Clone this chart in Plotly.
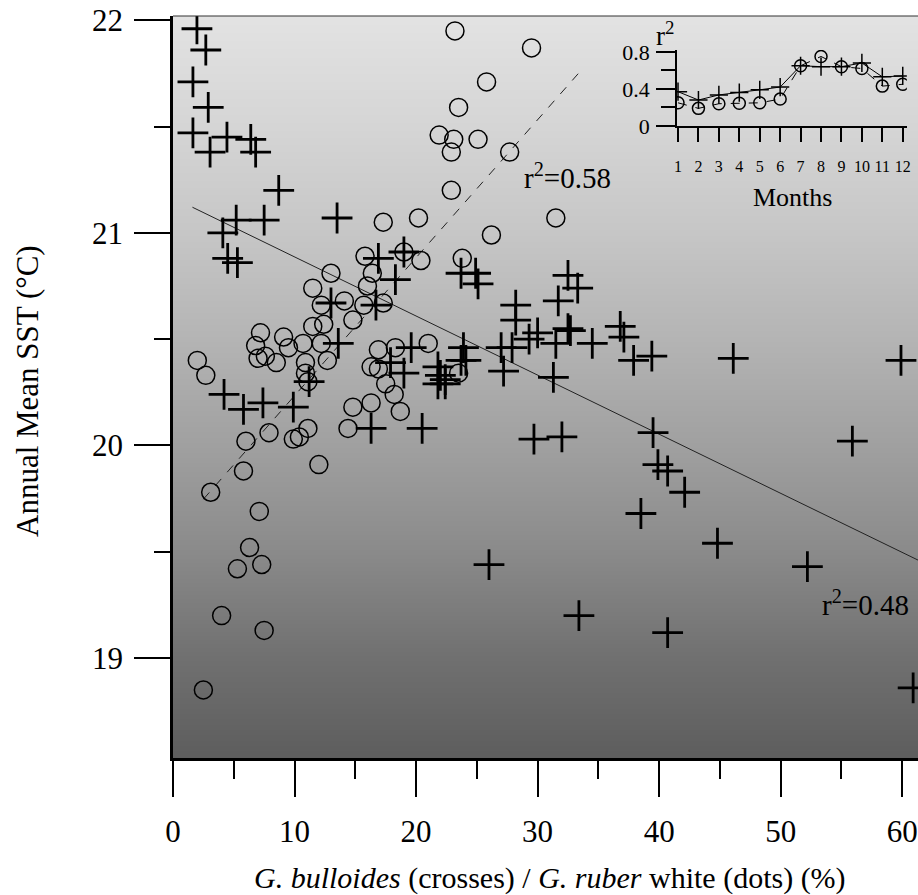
import plotly.graph_objects as go

# ---------------- data ----------------
# G. bulloides (crosses): x = %, y = annual mean SST
bull_x = [1.97, 2.7, 1.64, 2.9, 1.64, 3.05, 4.44, 6.4, 6.8, 8.7, 5.2, 7.5, 4.1, 4.5, 5.3,
          13.5, 16.9, 19.0, 23.7, 24.9, 25.1, 18.3, 13.0, 16.7, 13.6, 4.2, 5.8, 7.4, 9.9,
          11.2, 17.9, 19.0, 19.6, 16.3, 20.5, 21.8, 22.0, 22.4, 21.8, 22.4, 23.9, 24.1,
          23.7, 32.5, 33.3, 31.7, 28.2, 28.2, 27.0, 27.9, 30.0, 29.3, 31.5, 32.5, 32.7,
          34.5, 36.8, 37.1, 37.9, 39.4, 46.1, 59.9, 27.2, 31.3, 29.7, 32.0, 39.5, 39.9,
          40.7, 42.1, 38.5, 44.8, 55.9, 26.0, 52.2, 33.4, 40.7, 60.9]
bull_y = [21.96, 21.86, 21.71, 21.59, 21.47, 21.38, 21.45, 21.44, 21.38, 21.20, 21.06, 21.06,
          21.00, 20.88, 20.86, 21.07, 20.88, 20.91, 20.81, 20.81, 20.76, 20.78, 20.67, 20.66,
          20.48, 20.24, 20.17, 20.20, 20.18, 20.30, 20.39, 20.34, 20.46, 20.08, 20.08, 20.37,
          20.33, 20.31, 20.29, 20.29, 20.46, 20.40, 20.40, 20.80, 20.74, 20.68, 20.66, 20.59,
          20.46, 20.46, 20.53, 20.50, 20.48, 20.55, 20.54, 20.48, 20.56, 20.51, 20.40, 20.42,
          20.41, 20.40, 20.35, 20.32, 20.03, 20.04, 20.06, 19.91, 19.88, 19.78, 19.68, 19.54,
          20.02, 19.44, 19.43, 19.20, 19.12, 18.86]

# G. ruber white (dots)
ruber_x = [23.2, 25.8, 23.5, 21.9, 23.1, 25.1, 22.9, 27.7, 22.9, 17.3, 20.2, 26.2, 23.8, 15.8,
           19.0, 20.4, 13.0, 16.4, 29.5, 31.5, 11.5, 12.2, 14.1, 15.7, 17.3, 16.0, 14.8, 11.5,
           12.4, 7.2, 6.8, 9.1, 9.5, 10.7, 12.2, 7.0, 7.6, 8.5, 2.0, 2.7, 10.9, 12.7, 10.9,
           11.1, 16.9, 18.3, 21.0, 16.3, 16.9, 17.5, 18.2, 18.7, 14.8, 16.3, 14.4, 6.0, 7.9,
           9.9, 10.4, 11.1, 12.0, 5.8, 3.1, 7.1, 23.5, 6.3, 5.3, 7.3, 4.0, 7.5, 2.5]
ruber_y = [21.95, 21.71, 21.59, 21.46, 21.44, 21.44, 21.38, 21.38, 21.20, 21.05, 21.07, 20.99,
           20.88, 20.89, 20.91, 20.87, 20.81, 20.81, 21.87, 21.07, 20.74, 20.66, 20.68, 20.66,
           20.67, 20.75, 20.59, 20.56, 20.57, 20.53, 20.47, 20.51, 20.46, 20.48, 20.48, 20.41,
           20.42, 20.39, 20.40, 20.33, 20.39, 20.40, 20.34, 20.30, 20.45, 20.46, 20.48, 20.37,
           20.36, 20.29, 20.24, 20.16, 20.18, 20.20, 20.08, 20.02, 20.06, 20.03, 20.04, 20.08,
           19.91, 19.88, 19.78, 19.69, 20.34, 19.52, 19.42, 19.44, 19.20, 19.13, 18.85]

# regression lines (intercept, slope, x extent)
fit_bull_coef = [21.165, -0.0278]
fit_bull_xext = [1.6, 62.0]
fit_ruber_coef = [19.585, 0.0649]
fit_ruber_xext = [2.5, 33.7]
r2_labels = ["r<sup>2</sup>=0.58", "r<sup>2</sup>=0.48"]

# inset: monthly r^2
months = list(range(1, 13))
r2_bull = [0.37, 0.28, 0.335, 0.36, 0.39, 0.42, 0.65, 0.64, 0.64, 0.68, 0.53, 0.54]
r2_ruber = [0.25, 0.19, 0.24, 0.245, 0.25, 0.29, 0.65, 0.75, 0.64, 0.62, 0.43, 0.45]

x_ticks = [0, 10, 20, 30, 40, 50, 60]
y_ticks = [19, 20, 21, 22]

# background shading (gray level by SST)
bg_y = [18.3, 18.5, 19.0, 19.5, 20.0, 20.5, 21.0, 21.5, 22.0, 22.3]
bg_gray = [85, 92, 112, 138, 160, 180, 198, 213, 226, 228]

FONT = "Liberation Serif"

fig = go.Figure()

fig.add_trace(go.Heatmap(
    x=[-5, 70], y=bg_y, z=[[g, g] for g in bg_gray],
    zmin=0, zmax=255, colorscale=[[0, "rgb(0,0,0)"], [1, "rgb(255,255,255)"]],
    zsmooth="best", showscale=False, hoverinfo="skip"))

def line_pts(coef, ext):
    return ext, [coef[0] + coef[1] * v for v in ext]

lx, ly = line_pts(fit_bull_coef, fit_bull_xext)
fig.add_trace(go.Scatter(x=lx, y=ly, mode="lines",
                         line=dict(color="#222", width=1), hoverinfo="skip"))
lx, ly = line_pts(fit_ruber_coef, fit_ruber_xext)
fig.add_trace(go.Scatter(x=lx, y=ly, mode="lines",
                         line=dict(color="#222", width=1, dash="dash"), hoverinfo="skip"))

fig.add_trace(go.Scatter(x=ruber_x, y=ruber_y, mode="markers",
                         marker=dict(symbol="circle-open", size=18, color="black",
                                     line=dict(width=1.5, color="black"))))
fig.add_trace(go.Scatter(x=bull_x, y=bull_y, mode="markers",
                         marker=dict(symbol="cross-thin", size=22, color="black",
                                     line=dict(width=2.8, color="black"))))

# inset
fig.add_trace(go.Scatter(x=months, y=r2_bull, mode="lines+markers", xaxis="x2", yaxis="y2",
                         line=dict(color="black", width=1),
                         marker=dict(symbol="cross-thin", size=13, line=dict(width=1.5, color="black"))))
fig.add_trace(go.Scatter(x=months, y=r2_ruber, mode="lines+markers", xaxis="x2", yaxis="y2",
                         line=dict(color="black", width=1, dash="dash"),
                         marker=dict(symbol="circle-open", size=12, color="black",
                                     line=dict(width=1.5, color="black"))))

fig.update_layout(
    width=918, height=895, showlegend=False,
    margin=dict(l=173, r=0, t=16, b=137, autoexpand=False),
    paper_bgcolor="white", plot_bgcolor="rgba(0,0,0,0)",
    font=dict(family=FONT, color="black"),
    xaxis=dict(range=[0, 61.3], tickvals=x_ticks, ticks="outside", ticklen=36, tickwidth=2,
               tickcolor="black", showline=True, linewidth=2.5, linecolor="black",
               showgrid=False, zeroline=False, tickfont=dict(size=31, family=FONT),
               ticklabelstandoff=8, automargin=False, ticklabeloverflow="allow",
               minor=dict(dtick=5, tick0=0, ticks="outside", ticklen=18, tickwidth=2,
                          tickcolor="black", showgrid=False)),
    yaxis=dict(range=[18.53, 22.02], tickvals=y_ticks, ticks="outside", ticklen=36, tickwidth=2,
               tickcolor="black", showline=True, linewidth=2.5, linecolor="black",
               showgrid=False, zeroline=False, tickfont=dict(size=31, family=FONT),
               ticklabelstandoff=5, automargin=False, ticklabeloverflow="allow",
               minor=dict(dtick=0.5, tick0=0, ticks="outside", ticklen=16, tickwidth=2,
                          tickcolor="black", showgrid=False)),
    xaxis2=dict(domain=[0.6765, 0.985], anchor="y2", range=[0.95, 12.2], tickvals=months,
                ticks="outside", ticklen=14, tickwidth=1.5, tickcolor="black",
                showline=True, linewidth=1.5, linecolor="black", showgrid=False, zeroline=False,
                tickfont=dict(size=16, family=FONT), ticklabelstandoff=11, automargin=False,
                ticklabeloverflow="allow"),
    yaxis2=dict(domain=[0.8518, 0.9542], anchor="x2", range=[0, 0.82],
                tickvals=[0, 0.4, 0.8], ticktext=["0", "0.4", "0.8"],
                ticks="outside", ticklen=19, tickwidth=1.5, tickcolor="black",
                showline=True, linewidth=1.5, linecolor="black", showgrid=False, zeroline=False,
                tickfont=dict(size=22, family=FONT), ticklabelstandoff=2, automargin=False,
                ticklabeloverflow="allow",
                minor=dict(tickvals=[0.2, 0.6], ticks="outside", ticklen=14, tickwidth=1.5,
                           tickcolor="black", showgrid=False)),
    shapes=[
        dict(type="line", xref="paper", yref="paper", x0=0, x1=1, y0=1, y1=1,
             line=dict(color="#333", width=1.2)),
        dict(type="line", xref="paper", yref="y", x0=-16 / 745, x1=0, y0=18.5, y1=18.5,
             line=dict(color="black", width=2)),
    ],
    annotations=[
        dict(text=r2_labels[0], x=32.46, y=21.266, xref="x", yref="y", showarrow=False,
             xanchor="center", yanchor="middle", font=dict(size=29, family=FONT)),
        dict(text=r2_labels[1], x=57.0, y=19.26, xref="x", yref="y", showarrow=False,
             xanchor="center", yanchor="middle", font=dict(size=29, family=FONT)),
        dict(text="Months", x=0.832, y=0.756, xref="paper", yref="paper", showarrow=False,
             xanchor="center", yanchor="middle", font=dict(size=26, family=FONT)),
        dict(text="r<sup>2</sup>", x=0.661, y=0.976, xref="paper", yref="paper", showarrow=False,
             xanchor="center", yanchor="middle", font=dict(size=27, family=FONT)),
        dict(text="<i>G. bulloides</i> (crosses) / <i>G. ruber</i> white (dots) (%)",
             x=0.506, y=-0.1617, xref="paper", yref="paper", showarrow=False,
             xanchor="center", yanchor="middle", font=dict(size=30, family=FONT)),
        dict(text="Annual Mean SST (°C)", x=-0.196, y=0.4946, xref="paper", yref="paper",
             showarrow=False, textangle=-90, xanchor="center", yanchor="middle",
             font=dict(size=31, family=FONT)),
    ],
)

# remove the default 8px page margin so the figure fills the window exactly
fig.write_html("out.html", config={"displayModeBar": False},
               post_script="document.body.style.margin='0';"
                           "document.documentElement.style.overflow='hidden';")
